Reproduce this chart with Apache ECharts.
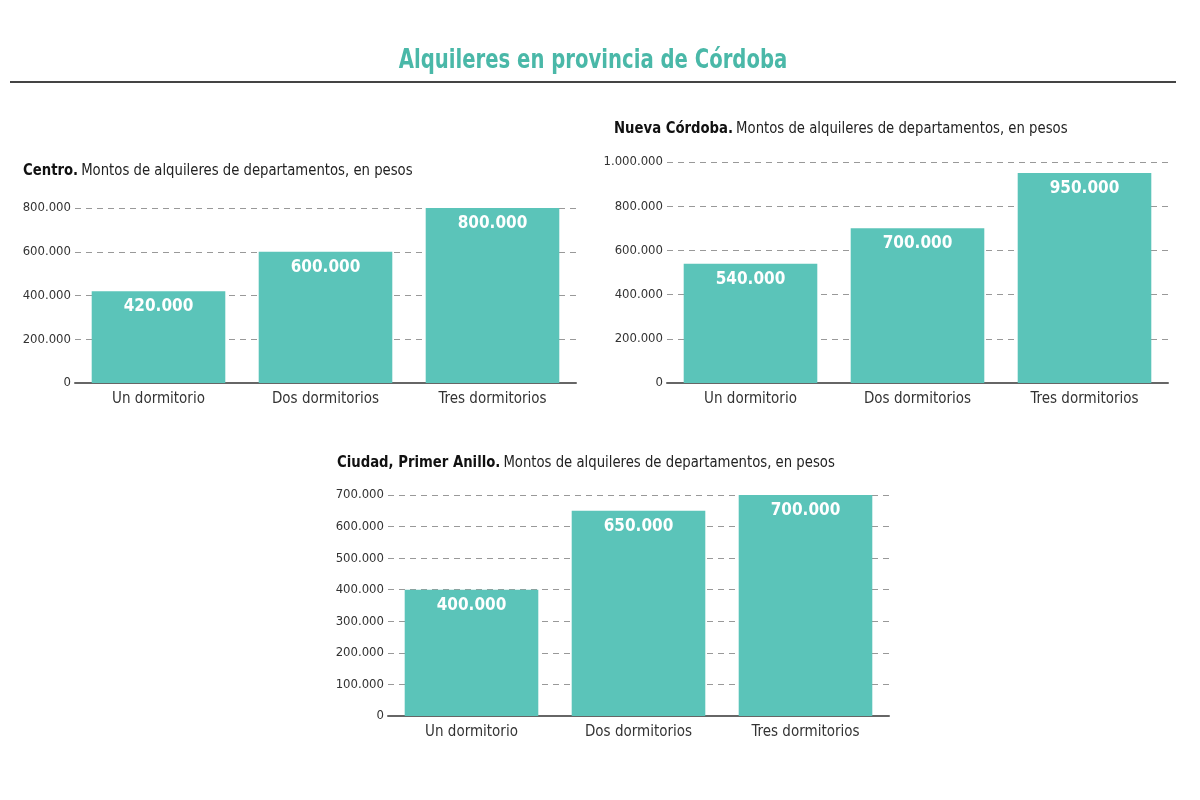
<!DOCTYPE html>
<html>
<head>
<meta charset="utf-8">
<script src="https://cdn.jsdelivr.net/npm/echarts@6/dist/echarts.min.js"></script>
<style>
  html, body { margin: 0; padding: 0; background: #fff; }
  #main { width: 1200px; height: 800px; }
</style>
</head>
<body>
<div id="main"></div>
<script>
// datos
var categorias = ["Un dormitorio", "Dos dormitorios", "Tres dormitorios"];
var centro = [420000, 600000, 800000];
var nuevaCordoba = [540000, 700000, 950000];
var primerAnillo = [400000, 650000, 700000];

var FONT = "'DejaVu Sans Condensed', 'Open Sans', sans-serif";
var TEAL = "#5bc4b9";

function miles(v) {
  return String(v).replace(/\B(?=(\d{3})+(?!\d))/g, ".");
}

// ejes por grafico
function ejeX(idx) {
  return {
    type: "category",
    gridIndex: idx,
    data: categorias,
    axisTick: { show: false },
    axisLine: { lineStyle: { color: "#666", width: 2 } },
    axisLabel: { color: "#333", fontSize: 15, fontFamily: FONT, margin: 9 }
  };
}

function ejeY(idx, max, interval) {
  return {
    type: "value",
    gridIndex: idx,
    min: 0,
    max: max,
    interval: interval,
    axisLine: { show: false },
    axisTick: { show: false },
    axisLabel: {
      color: "#333", fontSize: 13, fontFamily: FONT, margin: 4,
      formatter: function (v) { return miles(v); }
    },
    splitLine: { lineStyle: { color: "#999", type: [6, 5], width: 1 } }
  };
}

function barras(idx, datos) {
  return {
    type: "bar",
    xAxisIndex: idx,
    yAxisIndex: idx,
    data: datos,
    barCategoryGap: "20%",
    itemStyle: { color: TEAL },
    label: {
      show: true,
      position: "insideTop",
      distance: 7,
      color: "#fff",
      fontWeight: "bold",
      fontSize: 17,
      fontFamily: FONT,
      formatter: function (p) { return miles(p.value); }
    }
  };
}

function subtitulo(x, y, negrita, resto) {
  return {
    type: "text",
    x: x,
    y: y,
    scaleX: 0.92,
    style: {
      text: "{b|" + negrita + "} {n|" + resto + "}",
      verticalAlign: "middle",
      rich: {
        b: { fontWeight: "bold", fontSize: 16, fill: "#111", fontFamily: FONT },
        n: { fontWeight: "normal", fontSize: 16, fill: "#222", fontFamily: FONT }
      }
    }
  };
}

var chart = echarts.init(document.getElementById("main"));

chart.setOption({
  animation: false,
  backgroundColor: "#fff",
  graphic: [
    {
      type: "text",
      x: 593,
      y: 61,
      scaleX: 0.84,
      style: {
        text: "Alquileres en provincia de Córdoba",
        fill: "#4ab8a8",
        font: "bold 26px " + FONT,
        align: "center",
        verticalAlign: "middle"
      }
    },
    {
      type: "line",
      shape: { x1: 10, y1: 82, x2: 1176, y2: 82 },
      style: { stroke: "#444", lineWidth: 2 }
    },
    subtitulo(23, 171, "Centro.", "Montos de alquileres de departamentos, en pesos"),
    subtitulo(614, 129, "Nueva Córdoba.", "Montos de alquileres de departamentos, en pesos"),
    subtitulo(337, 463, "Ciudad, Primer Anillo.", "Montos de alquileres de departamentos, en pesos")
  ],
  grid: [
    { left: 75, top: 208, width: 501, height: 175 },
    { left: 667, top: 162, width: 501, height: 221 },
    { left: 388, top: 495, width: 501, height: 221 }
  ],
  xAxis: [ejeX(0), ejeX(1), ejeX(2)],
  yAxis: [
    ejeY(0, 800000, 200000),
    ejeY(1, 1000000, 200000),
    ejeY(2, 700000, 100000)
  ],
  series: [
    barras(0, centro),
    barras(1, nuevaCordoba),
    barras(2, primerAnillo)
  ]
});
</script>
</body>
</html>
